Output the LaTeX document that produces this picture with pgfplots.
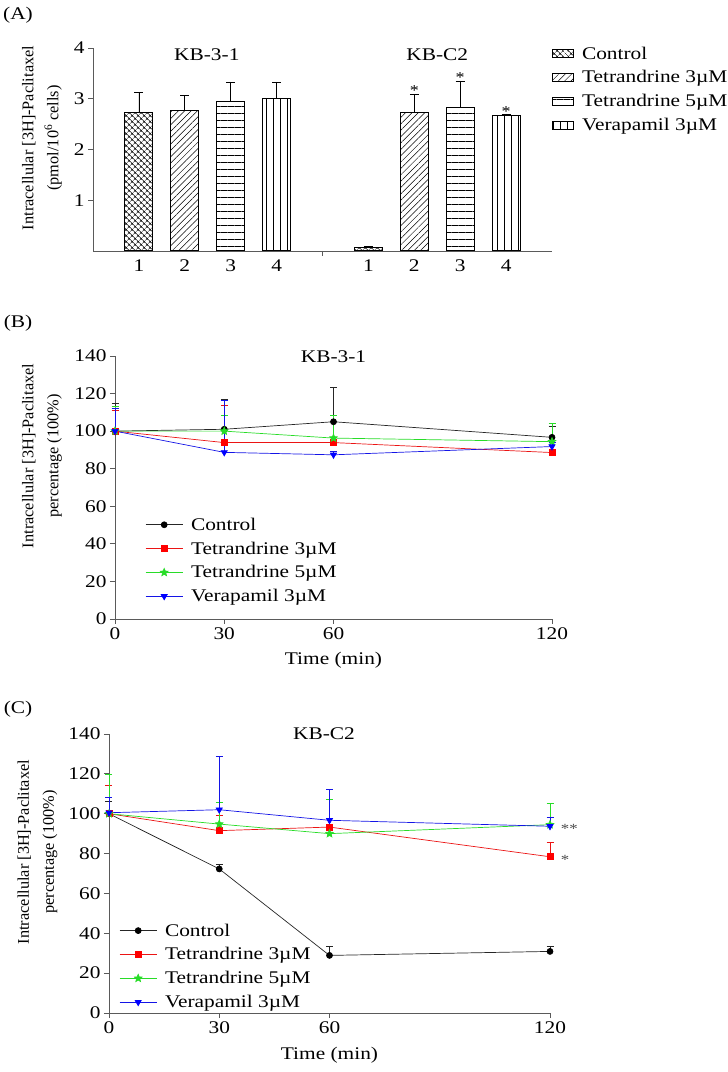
\documentclass[border=0pt]{standalone}
\usepackage{fontspec}
\setmainfont{Liberation Serif}[FakeStretch=1.2]
\newfontfamily\plainserif{Liberation Serif}
\usepackage{pgfplots}
\pgfplotsset{compat=1.18}
\usetikzlibrary{patterns.meta}

\definecolor{cgreen}{RGB}{40,220,40}
\definecolor{cred}{RGB}{235,20,20}
\definecolor{cblue}{RGB}{20,20,230}
\definecolor{axgray}{RGB}{90,90,90}

\pgfdeclareplotmark{fstar}{%
  \pgfpathmoveto{\pgfpointpolar{90}{\pgfplotmarksize}}%
  \pgfpathlineto{\pgfpointpolar{126}{0.45\pgfplotmarksize}}%
  \pgfpathlineto{\pgfpointpolar{162}{\pgfplotmarksize}}%
  \pgfpathlineto{\pgfpointpolar{198}{0.45\pgfplotmarksize}}%
  \pgfpathlineto{\pgfpointpolar{234}{\pgfplotmarksize}}%
  \pgfpathlineto{\pgfpointpolar{270}{0.45\pgfplotmarksize}}%
  \pgfpathlineto{\pgfpointpolar{306}{\pgfplotmarksize}}%
  \pgfpathlineto{\pgfpointpolar{342}{0.45\pgfplotmarksize}}%
  \pgfpathlineto{\pgfpointpolar{18}{\pgfplotmarksize}}%
  \pgfpathlineto{\pgfpointpolar{54}{0.45\pgfplotmarksize}}%
  \pgfpathclose
  \pgfusepathqfillstroke
}

\newcommand\txt{\fontsize{17.8}{24}\selectfont}
% rotated labels: the source image is stretched sideways, so these are not
\newcommand\ylab{\plainserif\fontsize{16.3}{25}\selectfont}

\pgfplotsset{
  panel/.style={
    scale only axis, anchor=south west, clip=false,
    axis lines*=left,
    axis line style={axgray, line width=0.8pt},
    tick style={axgray, line width=0.8pt},
    tick align=outside, major tick length=5pt,
    tick label style={font=\txt},
    xlabel style={font=\txt},
    ylabel style={font=\ylab, align=center, anchor=center},
    /pgf/number format/assume math mode=true,
  },
  linelegend/.style={
    legend style={draw=none, fill=none, inner sep=0pt, row sep=6pt,
      font=\txt, cells={anchor=west}},
    legend image code/.code={\draw[mark repeat=2, mark phase=2, ##1]
      plot coordinates {(0pt,0pt) (18.5pt,0pt) (37pt,0pt)};
      \path (43pt,0pt);},
  },
  ctrl/.style={black!85, line width=0.7pt, mark=*, mark size=3pt,
    mark options={fill=black, draw=black}},
  tt3/.style={cred, line width=0.7pt, mark=square*, mark size=3pt,
    mark options={fill=red, draw=red}},
  tt5/.style={cgreen, line width=0.7pt, mark=fstar, mark size=4pt,
    mark options={fill=cgreen, draw=cgreen}},
  ver/.style={cblue, line width=0.7pt, mark=triangle*, mark size=3.5pt,
    mark options={fill=blue, draw=blue, rotate=180}},
  eb/.style={error bars/.cd, y dir=plus, y explicit,
    error bar style={line width=0.7pt},
    error mark options={rotate=90, mark size=3.5pt, line width=0.7pt}},
  bars/.style={bar shift=0pt, draw=black, line width=1pt,
    error bars/.cd, y dir=plus, y explicit,
    error bar style={black, line width=0.8pt},
    error mark options={rotate=90, mark size=4.5pt, black, line width=0.8pt}},
}

\begin{document}
\begin{tikzpicture}
\useasboundingbox (0pt,0pt) rectangle (728pt,1072pt);

\node[font=\txt] at (18pt,1057pt) {(A)};
\node[font=\txt] at (18pt,749pt) {(B)};
\node[font=\txt] at (18pt,363pt) {(C)};

% ---------- (A) ----------
\begin{axis}[panel, at={(93pt,821pt)}, width=459pt, height=203pt,
  ybar, bar width=28pt,
  xmin=0, xmax=10, ymin=0, ymax=4,
  ytick={1,2,3,4},
  xtick={1,2,3,4,6,7,8,9}, xticklabels={1,2,3,4,1,2,3,4},
  xtick style={draw=none},
  ylabel={Intracellular [3H]-Paclitaxel\\(pmol/10\textsuperscript{6} cells)},
  ylabel style={at={(axis description cs:-0.111,0.557)}},
  legend style={at={(axis description cs:1.0,1.017)}, anchor=north west,
    draw=none, fill=none, inner sep=0pt, row sep=6pt, font=\txt,
    cells={anchor=west}},
  legend image code/.code={\draw[#1, draw=black, line width=0.6pt] (0pt,-4pt) rectangle (21pt,4pt); \path (27pt,0pt);},
]
\addplot[pattern={Hatch[angle=45, distance=4pt, line width=0.5pt]}, bars]
  coordinates {(1,2.73) +- (0,0.40) (6,0.07) +- (0,0.02)};
\addplot[pattern={Lines[angle=45, distance=4.5pt, line width=0.5pt]}, bars]
  coordinates {(2,2.77) +- (0,0.29) (7,2.73) +- (0,0.36)};
\addplot[pattern={Lines[angle=0, distance=7pt, line width=0.6pt]}, bars]
  coordinates {(3,2.95) +- (0,0.38) (8,2.83) +- (0,0.52)};
\addplot[pattern={Lines[angle=90, distance=7pt, line width=0.6pt]}, bars]
  coordinates {(4,3.00) +- (0,0.33) (9,2.66) +- (0,0.04)};
\legend{Control, Tetrandrine 3µM, Tetrandrine 5µM, Verapamil 3µM}
\draw[axgray, line width=0.8pt] (axis cs:5,0) -- ++(0,-5pt);
\node[font=\txt] at (axis cs:2.48,3.87) {KB-3-1};
\node[font=\txt] at (axis cs:7.5,3.87) {KB-C2};
\node[font=\fontsize{15}{15}\selectfont, yshift=-3pt] at (axis cs:7,3.21) {*};
\node[font=\fontsize{15}{15}\selectfont, yshift=-3pt] at (axis cs:8,3.47) {*};
\node[font=\fontsize{15}{15}\selectfont, yshift=-3pt] at (axis cs:9,2.81) {*};
\end{axis}

% ---------- (B) ----------
\begin{axis}[panel, linelegend, at={(115pt,453pt)}, width=437pt, height=263pt,
  xmin=0, xmax=120, ymin=0, ymax=140,
  xtick={0,30,60,120}, ytick={0,20,...,140},
  xlabel={Time (min)},
  xlabel style={at={(axis description cs:0.5,-0.156)}, anchor=center},
  ylabel={Intracellular [3H]-Paclitaxel\\percentage (100\%)},
  ylabel style={at={(axis description cs:-0.167,0.62)}},
  legend style={at={(axis description cs:0.069,0.393)}, anchor=north west},
]
\addplot[ctrl, eb] coordinates {(0,100) +- (0,15) (30,101) +- (0,16) (60,105) +- (0,18.3) (120,96.7) +- (0,6)};
\addplot[tt3, eb] coordinates {(0,100) +- (0,11) (30,93.9) +- (0,19.6) (60,93.9) +- (0,14.3) (120,88.6) +- (0,1)};
\addplot[tt5, eb] coordinates {(0,100) +- (0,13) (30,100) +- (0,8.6) (60,96.3) +- (0,12) (120,94.4) +- (0,9.8)};
\addplot[ver, eb] coordinates {(0,100) +- (0,12) (30,88.7) +- (0,27.8) (60,87.4) +- (0,2) (120,91.8) +- (0,2)};
\legend{Control, Tetrandrine 3µM, Tetrandrine 5µM, Verapamil 3µM}
\node[font=\txt] at (axis cs:60,139.5) {KB-3-1};
\end{axis}

% ---------- (C) ----------
\begin{axis}[panel, linelegend, at={(109pt,59pt)}, width=441pt, height=279pt,
  xmin=0, xmax=120, ymin=0, ymax=140,
  xtick={0,30,60,120}, ytick={0,20,...,140},
  xlabel={Time (min)},
  xlabel style={at={(axis description cs:0.5,-0.15)}, anchor=center},
  ylabel={Intracellular [3H]-Paclitaxel\\percentage (100\%)},
  ylabel style={at={(axis description cs:-0.162,0.577)}},
  legend style={at={(axis description cs:0.023,0.328)}, anchor=north west},
]
\addplot[ctrl, eb] coordinates {(0,100) +- (0,6) (30,72.3) +- (0,2.5) (60,28.9) +- (0,4.6) (120,30.9) +- (0,2.5)};
\addplot[tt3, eb] coordinates {(0,100) +- (0,14.3) (30,91.5) +- (0,7.5) (60,93.3) +- (0,14) (120,78.4) +- (0,7.4)};
\addplot[tt5, eb] coordinates {(0,100) +- (0,19.6) (30,94.8) +- (0,10.9) (60,90) +- (0,17.4) (120,94.5) +- (0,10.7)};
\addplot[ver, eb] coordinates {(0,100.5) +- (0,7.5) (30,102) +- (0,26.6) (60,96.7) +- (0,15.7) (120,93.7) +- (0,4.5)};
\legend{Control, Tetrandrine 3µM, Tetrandrine 5µM, Verapamil 3µM}
\node[font=\txt] at (axis cs:58.5,140) {KB-C2};
\node[font=\fontsize{14}{14}\selectfont, anchor=west, yshift=-3pt, gray!60!black] at (axis cs:122,93.7) {**};
\node[font=\fontsize{14}{14}\selectfont, anchor=west, yshift=-3pt, gray!60!black] at (axis cs:122,78.4) {*};
\end{axis}
\end{tikzpicture}
\end{document}
